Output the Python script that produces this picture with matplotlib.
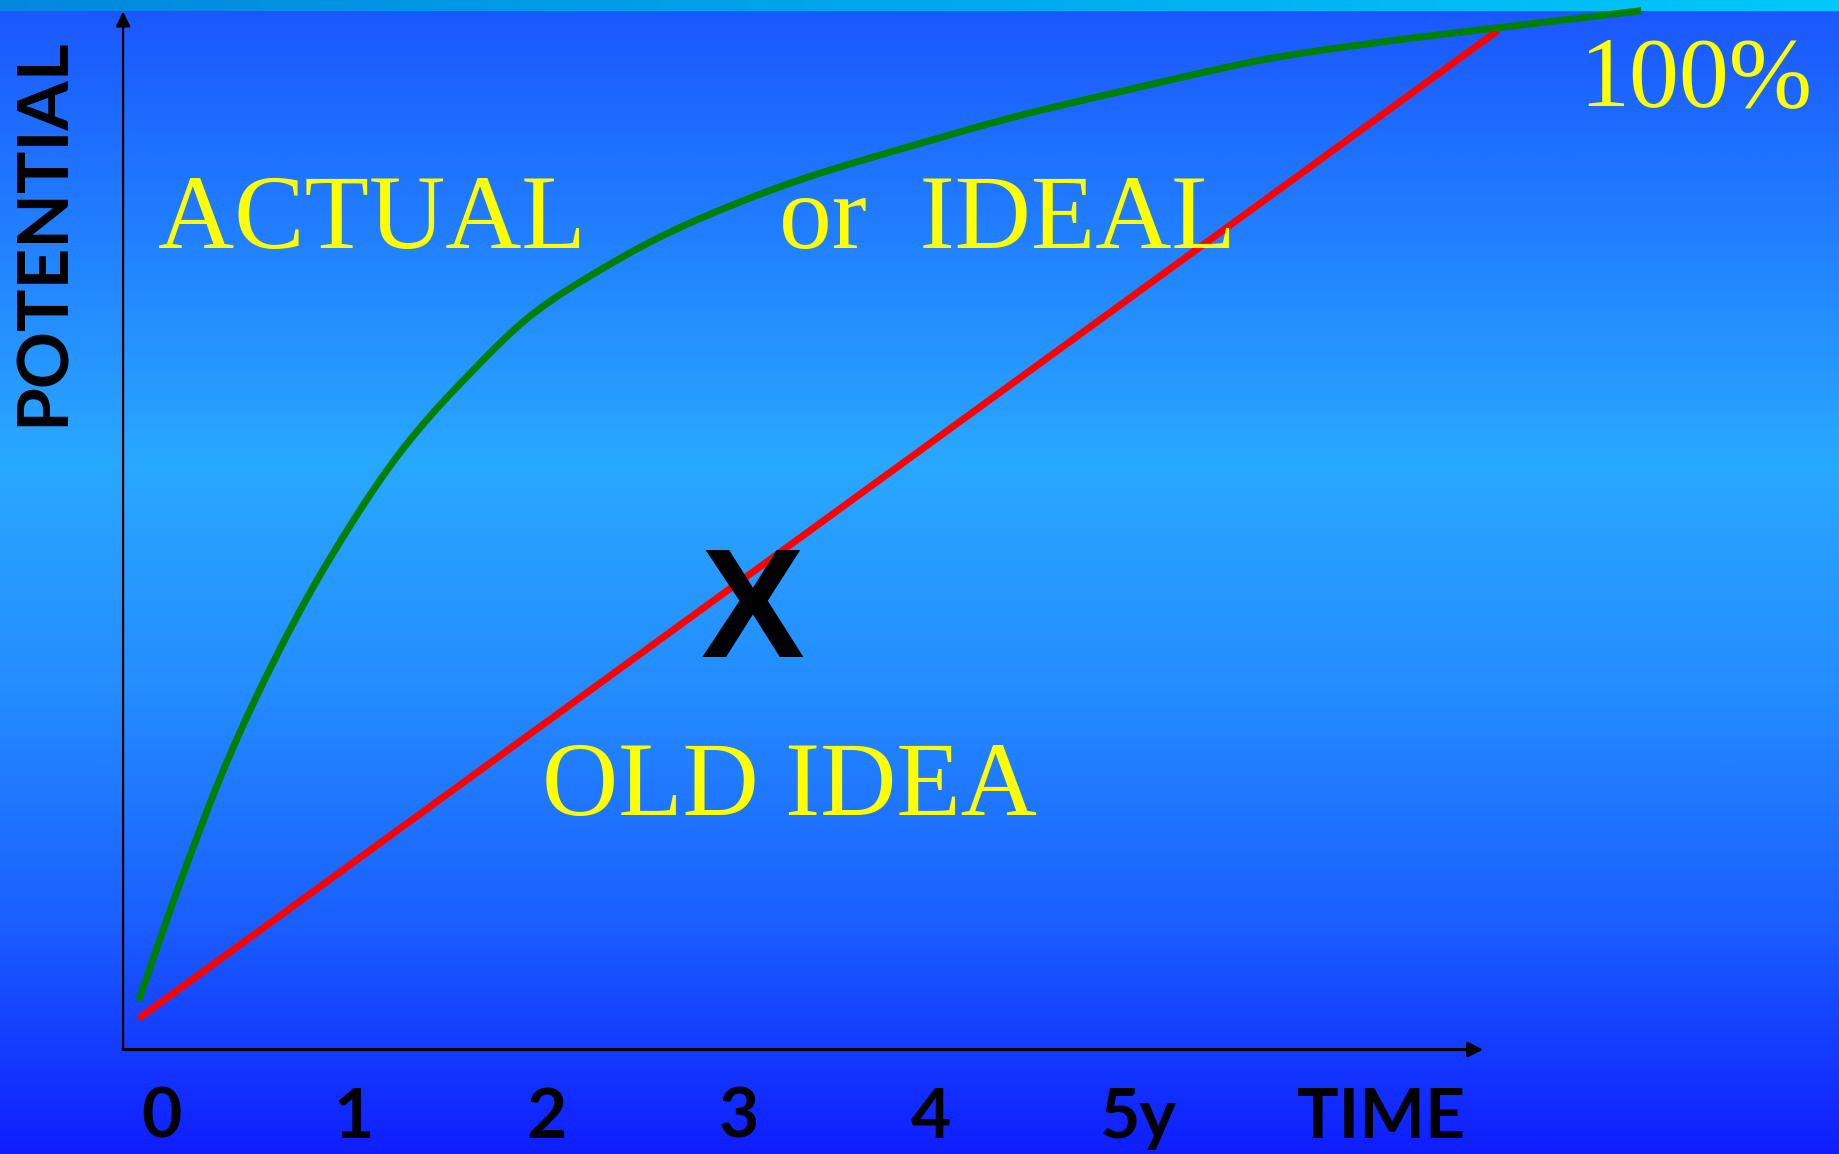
"""Potential vs time: old linear idea against the actual (ideal) curve."""

import numpy as np
import matplotlib
matplotlib.use("Agg")
import matplotlib.pyplot as plt  # noqa: E402
from matplotlib.colors import LinearSegmentedColormap  # noqa: E402

# x in years, y in % of potential
TICK_YEARS = [0, 1, 2, 3, 4, 5]
TICK_LABELS = ["0", "1", "2", "3", "4", "5y"]

OLD_T = [-0.12, 6.949]
OLD_P = [3.0, 98.2]

ACTUAL_T = [-0.12, 0.088, 0.327, 0.566, 0.845, 1.255, 1.585, 1.931, 2.278,
            2.625, 2.971, 3.318, 3.941, 4.462, 4.982, 5.501, 5.762, 6.351,
            6.923, 7.694]
ACTUAL_P = [4.7, 15.7, 27.2, 36.8, 46.4, 57.9, 64.8, 70.9, 75.1,
            78.6, 81.4, 83.8, 87.3, 90.0, 92.3, 94.5, 95.5, 97.1,
            98.4, 100.1]

YELLOW = "#FFFF00"
SERIF = ["Liberation Serif", "DejaVu Serif"]
HAND = ["Lato", "DejaVu Sans"]


def smooth(xs, ys, n=30):
    """Monotone cubic (Fritsch-Carlson) through the read points, for drawing."""
    x = np.asarray(xs, float)
    y = np.asarray(ys, float)
    h = np.diff(x)
    d = np.diff(y) / h
    m = np.empty_like(x)
    m[0], m[-1] = d[0], d[-1]
    for k in range(1, len(x) - 1):
        if d[k - 1] * d[k] <= 0:
            m[k] = 0.0
        else:
            w1 = 2 * h[k] + h[k - 1]
            w2 = h[k] + 2 * h[k - 1]
            m[k] = (w1 + w2) / (w1 / d[k - 1] + w2 / d[k])
    xo, yo = [], []
    for k in range(len(h)):
        s = np.linspace(0, 1, n, endpoint=False)
        h00 = 2 * s ** 3 - 3 * s ** 2 + 1
        h10 = s ** 3 - 2 * s ** 2 + s
        h01 = -2 * s ** 3 + 3 * s ** 2
        h11 = s ** 3 - s ** 2
        xo.append(x[k] + s * h[k])
        yo.append(h00 * y[k] + h10 * h[k] * m[k] + h01 * y[k + 1]
                  + h11 * h[k] * m[k + 1])
    xo.append([x[-1]])
    yo.append([y[-1]])
    return np.concatenate(xo), np.concatenate(yo)


fig = plt.figure(figsize=(18.39, 11.54), dpi=100)

# background: vertical blue gradient + thin cyan strip along the top
bg = fig.add_axes([0, 0, 1, 1], zorder=0)
bg_cmap = LinearSegmentedColormap.from_list("bg", [
    (0.00, (26 / 255, 86 / 255, 1.0)),
    (0.40, (41 / 255, 168 / 255, 1.0)),
    (0.60, (36 / 255, 140 / 255, 1.0)),
    (0.80, (26 / 255, 95 / 255, 1.0)),
    (1.00, (15 / 255, 30 / 255, 1.0)),
])
bg.imshow(np.linspace(0, 1, 512)[:, None], cmap=bg_cmap, aspect="auto",
          extent=(0, 1, 1, 0))
strip_cmap = LinearSegmentedColormap.from_list(
    "strip", ["#0088DD", "#00C8FA"])
bg.imshow(np.linspace(0, 1, 512)[None, :], cmap=strip_cmap, aspect="auto",
          extent=(0, 1, 11 / 1154, 0))
bg.set_xlim(0, 1)
bg.set_ylim(1, 0)
bg.axis("off")

ax = fig.add_axes([0, 0, 1, 1], zorder=1)
ax.patch.set_alpha(0)
ax.set_xlim(-0.841, 8.722)
ax.set_ylim(-10.06, 101.13)
ax.axis("off")

# axes with arrow heads
ax.annotate("", xy=(-0.201, 100.0), xytext=(-0.201, 0),
            arrowprops=dict(arrowstyle="-|>", color="black", lw=1.6,
                            mutation_scale=22, shrinkA=0, shrinkB=0))
ax.annotate("", xy=(6.872, 0), xytext=(-0.201, 0),
            arrowprops=dict(arrowstyle="-|>", color="black", lw=2.2,
                            mutation_scale=22, shrinkA=0, shrinkB=0))

ax.plot(OLD_T, OLD_P, color="#FF0000", lw=5, solid_capstyle="butt")
ax.plot(*smooth(ACTUAL_T, ACTUAL_P), color="#008000", lw=5,
        solid_capstyle="butt", solid_joinstyle="round")

for t, lab in zip(TICK_YEARS, TICK_LABELS):
    # "5y": the digit sits on the year, the y hangs to the right
    xpos, ha = (t - 0.12, "left") if lab == "5y" else (t, "center")
    ax.text(xpos, -6.6, lab, ha=ha, va="center", fontsize=50,
            fontweight="bold", family=HAND)
ax.text(6.34, -6.6, "TIME", ha="center", va="center", fontsize=50,
        fontweight="bold", family=HAND)
ax.text(-0.616, 78.8, "POTENTIAL", ha="center", va="center", rotation=90,
        fontsize=51, fontweight="bold", family=HAND)

ax.text(-0.018, 77.2, "ACTUAL", ha="left", va="baseline", fontsize=76,
        color=YELLOW, family=SERIF)
ax.text(3.21, 77.2, "or  IDEAL", ha="left", va="baseline", fontsize=76,
        color=YELLOW, family=SERIF)
ax.text(1.98, 22.6, "OLD IDEA", ha="left", va="baseline", fontsize=76,
        color=YELLOW, family=SERIF)
ax.text(7.37, 91.0, "100%", ha="left", va="baseline", fontsize=72,
        color=YELLOW, family=SERIF)
ax.text(3.07, 41.7, "X", ha="center", va="center", fontsize=112,
        fontweight="bold", family=["Liberation Sans", "DejaVu Sans"])

fig.savefig("out.png", dpi=100)
